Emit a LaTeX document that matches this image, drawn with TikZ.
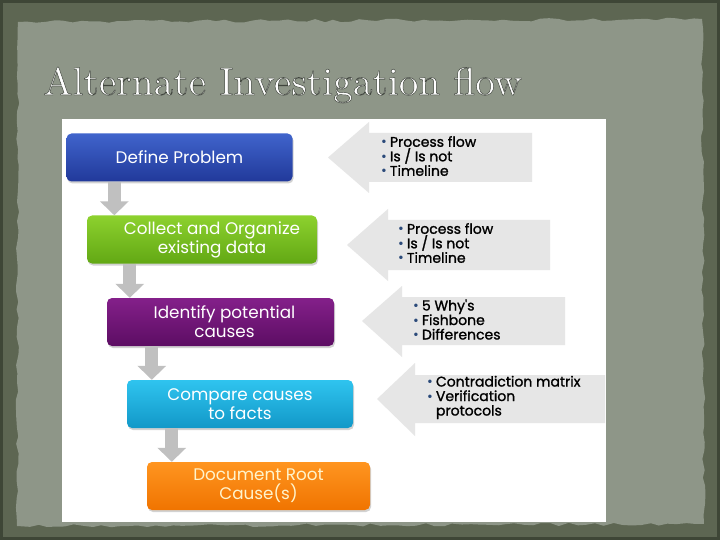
\documentclass[tikz,border=0pt]{standalone}
\usepackage{fontspec}
\newfontfamily\popfont{Poppins}
\newfontfamily\popbold{Poppins}[FakeBold=1.3]
\usetikzlibrary{arrows.meta,calc,shadows,decorations.pathmorphing}
\definecolor{framec}{HTML}{5D6652}
\definecolor{edgec}{HTML}{3E4636}
\definecolor{paperc}{HTML}{8E9688}
\definecolor{bAt}{HTML}{4064CC}\definecolor{bAb}{HTML}{21399A}
\definecolor{bBt}{HTML}{8DD12E}\definecolor{bBb}{HTML}{62A814}
\definecolor{bCt}{HTML}{84208A}\definecolor{bCb}{HTML}{5C0D63}
\definecolor{bDt}{HTML}{2FC4EF}\definecolor{bDb}{HTML}{1298C8}
\definecolor{bEt}{HTML}{FF9520}\definecolor{bEb}{HTML}{F07400}
\definecolor{arrowgray}{HTML}{C0C0C0}
\definecolor{chevgray}{HTML}{E6E6E6}
\definecolor{bulc}{HTML}{2B4A7A}
\definecolor{softyellow}{HTML}{FFF4CC}
\newcommand\bul{{\color{bulc}\popfont\textbullet}\hspace{3pt}}
\newcommand\mychev[8]{\fill[chevgray] (#1,#2) -- (#3,#4) -- (#3,#6) -- (#7,#6) -- (#7,#8) -- (#3,#8) -- (#3,#5) -- cycle;}
\tikzset{
  stepbox/.style={rounded corners=5pt, minimum height=48pt, align=center, text=white,
    font={\popfont\fontsize{16.8}{19}\selectfont}, inner sep=2pt,
    drop shadow={opacity=0.35, shadow xshift=1pt, shadow yshift=-2pt}},
  flowarr/.style={draw=arrowgray, line width=13pt, -{Triangle[width=28pt,length=14pt]}},
  listtext/.style={anchor=west, align=left, font={\popbold\fontsize{14}{14.5}\selectfont}, inner sep=0pt}
}
\begin{document}
\begin{tikzpicture}[x=1pt,y=-1pt]
\useasboundingbox (0,0) rectangle (720,540);
% background
\fill[framec] (0,0) rectangle (720,540);
\draw[edgec, line width=6pt] (0,0) rectangle (720,540);
\pgfmathsetseed{7}
\fill[paperc, decorate, decoration={random steps, segment length=9pt, amplitude=1.6pt}]
  (18,22) -- (702,19) -- (704,524) -- (17,526) -- cycle;
% title
\node[anchor=base west, text=white, inner sep=0pt] (title) at (43,95)
  {\resizebox{479pt}{!}{\special{pdf:literal 2 Tr 0.12 w 0.25 0.27 0.24 RG}Alternate Investigation flow\special{pdf:literal 0 Tr}}};
% white panel
\fill[white] (62,119) rectangle (606,522);
% chevrons
\mychev{328}{157.5}{369}{122}{193}{133}{532}{182}
\mychev{347}{245}{388}{209}{281}{220}{550}{270}
\mychev{362}{321}{402}{286}{357}{297}{565}{345}
\mychev{377}{399}{415}{363}{436}{375}{605}{423}
% step boxes
\node[stepbox, minimum width=226pt, top color=bAt, bottom color=bAb] (b1) at (179.5,157.5) {Define Problem};
\node[stepbox, minimum width=230pt, top color=bBt, bottom color=bBb] (b2) at (202,239.5) {\hspace*{20pt}Collect and Organize\\\hspace*{20pt}existing data};
\node[stepbox, minimum width=227pt, top color=bCt, bottom color=bCb] (b3) at (220.5,322) {\hspace*{8pt}Identify potential\\\hspace*{8pt}causes};
\node[stepbox, minimum width=226pt, top color=bDt, bottom color=bDb] (b4) at (240,404) {Compare causes\\to facts};
\node[stepbox, minimum width=223pt, top color=bEt, bottom color=bEb, text=softyellow] (b5) at (258.5,486) {Document Root\\Cause(s)};
% flow arrows
\path (b1.south west) ++(48,0) coordinate (s1);
\path (b2.south west) ++(43,0) coordinate (s2);
\path (b3.south west) ++(45,0) coordinate (s3);
\path (b4.south west) ++(45,0) coordinate (s4);
\draw[flowarr] (s1) -- (s1 |- b2.north);
\draw[flowarr] (s2) -- (s2 |- b3.north);
\draw[flowarr] (s3) -- (s3 |- b4.north);
\draw[flowarr] (s4) -- (s4 |- b5.north);
% lists
\node[listtext] (l1) at (381,156) {\bul Process flow\\\bul Is / Is not\\\bul Timeline};
\node[listtext] (l2) at (398,243) {\bul Process flow\\\bul Is / Is not\\\bul Timeline};
\node[listtext] (l3) at (413,319.5) {\bul 5 Why's\\\bul Fishbone\\\bul Differences};
\node[listtext] (l4) at (427,397.5) {\bul Contradiction matrix\\\bul Verification\\\hphantom{\bul}protocols};
\end{tikzpicture}
\end{document}
